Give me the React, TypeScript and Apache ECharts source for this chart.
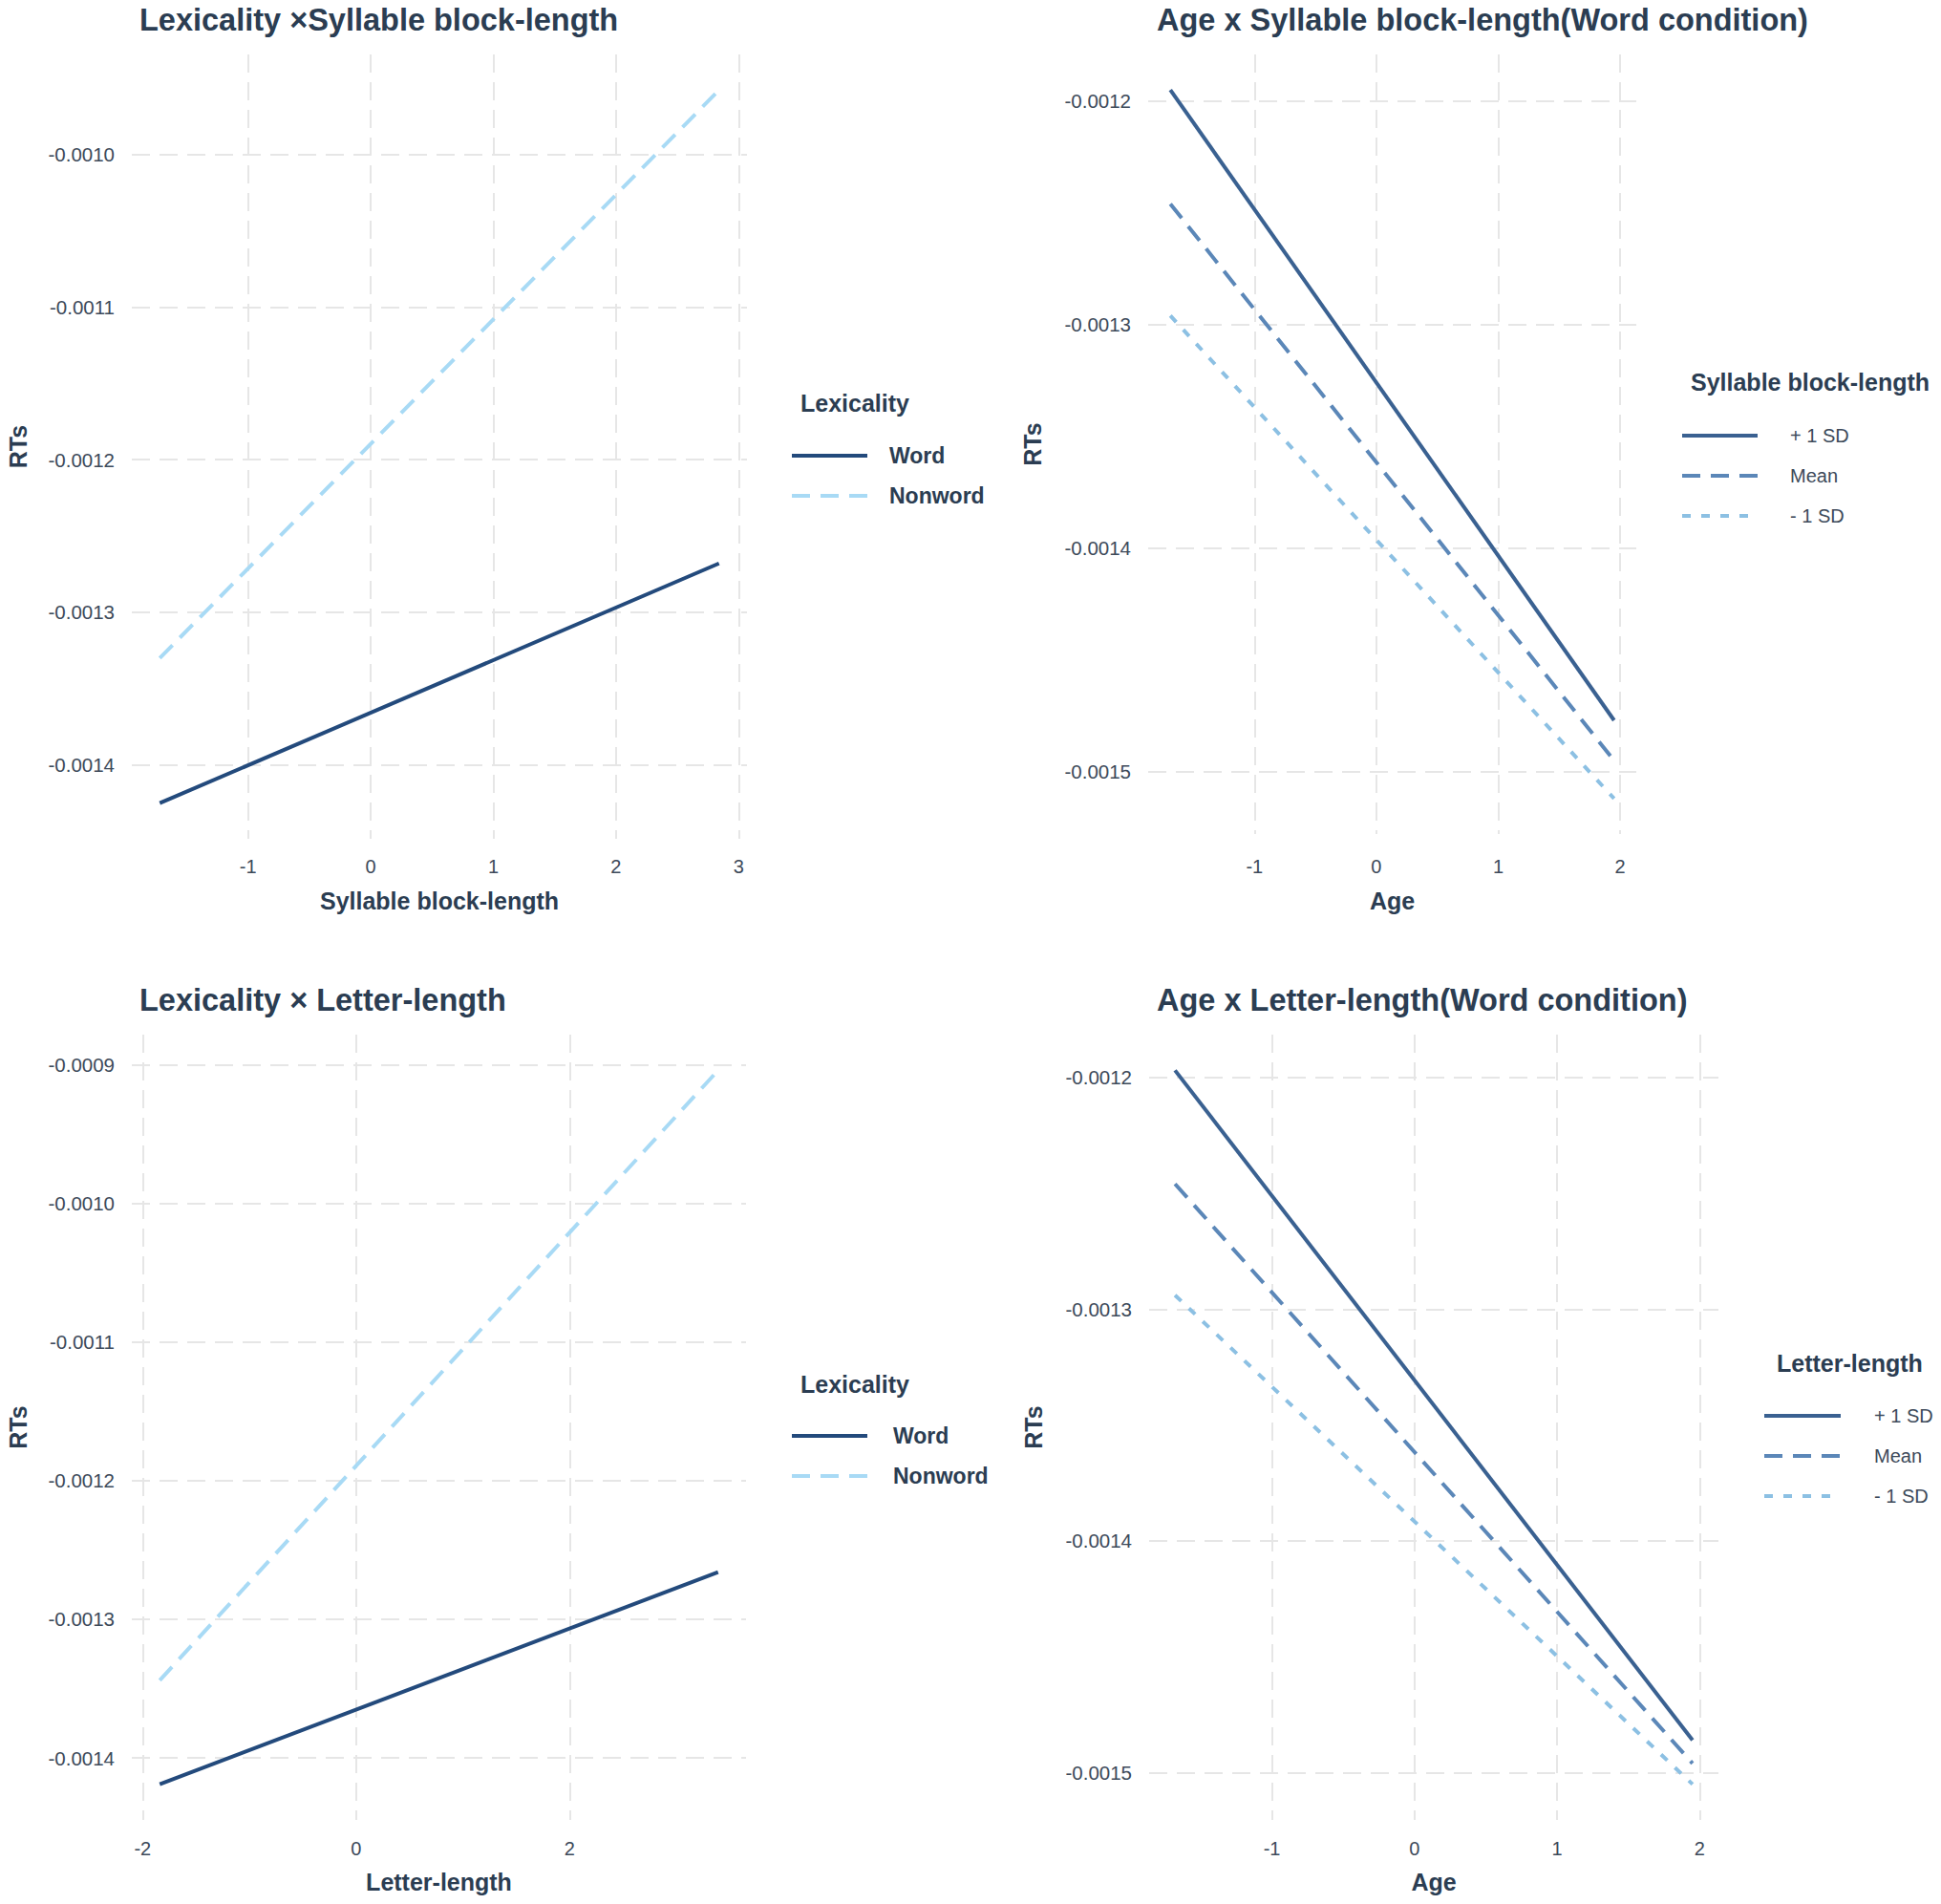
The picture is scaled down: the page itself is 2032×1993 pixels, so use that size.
import React, { useEffect, useRef } from "react";
import * as echarts from "echarts";

// ---------- Data ----------
// Panel 1: Lexicality x Syllable block-length
const syllX = [-1.72, 2.84];
const syllWord = [-0.001425, -0.001268];
const syllNonword = [-0.00133, -0.000958];
const syllXTicks = [-1, 0, 1, 2, 3];
const syllYTicks = [-0.0014, -0.0013, -0.0012, -0.0011, -0.001];

// Panel 2: Age x Syllable block-length (Word condition)
const ageSyllX = [-1.69, 1.95];
const ageSyllPlus = [-0.001195, -0.001477];
const ageSyllMean = [-0.001246, -0.001495];
const ageSyllMinus = [-0.001296, -0.001512];
const ageXTicks = [-1, 0, 1, 2];
const ageSyllYTicks = [-0.0015, -0.0014, -0.0013, -0.0012];

// Panel 3: Lexicality x Letter-length
const letterX = [-1.84, 3.39];
const letterWord = [-0.001419, -0.001266];
const letterNonword = [-0.001344, -0.000904];
const letterXTicks = [-2, 0, 2];
const letterYTicks = [-0.0014, -0.0013, -0.0012, -0.0011, -0.001, -0.0009];

// Panel 4: Age x Letter-length (Word condition)
const ageLetterX = [-1.68, 1.95];
const ageLetterPlus = [-0.001197, -0.001486];
const ageLetterMean = [-0.001246, -0.001496];
const ageLetterMinus = [-0.001294, -0.001505];
const ageLetterYTicks = [-0.0015, -0.0014, -0.0013, -0.0012];

const titles = [
  "Lexicality \u00d7Syllable block-length",
  "Age x Syllable block-length(Word condition)",
  "Lexicality \u00d7 Letter-length",
  "Age x Letter-length(Word condition)",
];
const xNames = ["Syllable block-length", "Age", "Letter-length", "Age"];
const lexLabels = ["Word", "Nonword"];
const sdLabels = ["+ 1 SD", "Mean", "- 1 SD"];
const legendTitles = ["Lexicality", "Syllable block-length", "Lexicality", "Letter-length"];

// ---------- Styles ----------
const FONT = "'Liberation Sans', Arial, Helvetica, sans-serif";
const TEXT = "#2b3d52";
const TICK = "#3d4a5a";
const GRID = "#e6e6e6";
const WORD = "#234a7c";
const NONWORD = "#a8daf5";
const PLUS = "#3a6191";
const MEAN = "#5b87b8";
const MINUS = "#8cc0e3";
const DASH = [19, 11];
const DOT = [9, 11];

function expand(vals: number[]) {
  const lo = Math.min(...vals);
  const hi = Math.max(...vals);
  const pad = (hi - lo) * 0.05;
  return [lo - pad, hi + pad];
}

const grids = [
  { left: 138, top: 57, width: 644, height: 821 },
  { left: 1202, top: 57, width: 511, height: 816 },
  { left: 138, top: 1083, width: 643, height: 822 },
  { left: 1203, top: 1083, width: 596, height: 822 },
];

const panels = [
  {
    x: syllX, xTicks: syllXTicks, yTicks: syllYTicks,
    series: [
      { name: "Word", y: syllWord, color: WORD, type: "solid" as any },
      { name: "Nonword", y: syllNonword, color: NONWORD, type: DASH as any },
    ],
    labelMargin: 19, nameGap: 52, yNameGap: 107,
  },
  {
    x: ageSyllX, xTicks: ageXTicks, yTicks: ageSyllYTicks,
    series: [
      { name: "+ 1 SD", y: ageSyllPlus, color: PLUS, type: "solid" as any },
      { name: "Mean", y: ageSyllMean, color: MEAN, type: DASH as any },
      { name: "- 1 SD", y: ageSyllMinus, color: MINUS, type: DOT as any },
    ],
    labelMargin: 24, nameGap: 57, yNameGap: 109,
  },
  {
    x: letterX, xTicks: letterXTicks, yTicks: letterYTicks,
    series: [
      { name: "Word", y: letterWord, color: WORD, type: "solid" as any },
      { name: "Nonword", y: letterNonword, color: NONWORD, type: DASH as any },
    ],
    labelMargin: 20, nameGap: 52, yNameGap: 107,
  },
  {
    x: ageLetterX, xTicks: ageXTicks, yTicks: ageLetterYTicks,
    series: [
      { name: "+ 1 SD", y: ageLetterPlus, color: PLUS, type: "solid" as any },
      { name: "Mean", y: ageLetterMean, color: MEAN, type: DASH as any },
      { name: "- 1 SD", y: ageLetterMinus, color: MINUS, type: DOT as any },
    ],
    labelMargin: 20, nameGap: 52, yNameGap: 109,
  },
];

const titlePos = [
  { left: 146, top: 4 },
  { left: 1211, top: 4 },
  { left: 146, top: 1030 },
  { left: 1211, top: 1030 },
];

// legend layout: title position, key line x-range, first key y, row step, label x, label bold
const legendLayout = [
  { tx: 838, ty: 422, kx1: 829, kx2: 908, ky: 477, step: 42, lx: 931, bold: true, labels: lexLabels },
  { tx: 1770, ty: 400, kx1: 1761, kx2: 1840, ky: 456, step: 42, lx: 1874, bold: false, labels: sdLabels },
  { tx: 838, ty: 1449, kx1: 829, kx2: 908, ky: 1503, step: 42, lx: 935, bold: true, labels: lexLabels },
  { tx: 1860, ty: 1427, kx1: 1847, kx2: 1927, ky: 1482, step: 42, lx: 1962, bold: false, labels: sdLabels },
];

function buildOption() {
  const xAxis: any[] = [];
  const yAxis: any[] = [];
  const series: any[] = [];
  const graphic: any[] = [];

  panels.forEach((p, i) => {
    const [xmin, xmax] = expand(p.x);
    const allY: number[] = [];
    p.series.forEach((s) => allY.push(...s.y));
    const [ymin, ymax] = expand(allY);

    xAxis.push({
      type: "value",
      gridIndex: i,
      min: xmin,
      max: xmax,
      name: xNames[i],
      nameLocation: "middle",
      nameGap: p.nameGap,
      nameTextStyle: { fontFamily: FONT, fontSize: 25, fontWeight: "bold", color: TEXT },
      axisLine: { show: false },
      axisTick: { show: false, customValues: p.xTicks },
      axisLabel: {
        customValues: p.xTicks,
        fontFamily: FONT,
        fontSize: 20,
        color: TICK,
        margin: p.labelMargin,
        formatter: (v: number) => String(Math.round(v)),
      },
      splitLine: { show: true, lineStyle: { color: GRID, width: 2, type: [19, 10] } },
    });
    yAxis.push({
      type: "value",
      gridIndex: i,
      min: ymin,
      max: ymax,
      name: "RTs",
      nameLocation: "middle",
      nameGap: p.yNameGap,
      nameTextStyle: { fontFamily: FONT, fontSize: 25, fontWeight: "bold", color: TEXT },
      axisLine: { show: false },
      axisTick: { show: false, customValues: p.yTicks },
      axisLabel: {
        customValues: p.yTicks,
        fontFamily: FONT,
        fontSize: 20.5,
        color: TICK,
        margin: 18,
        formatter: (v: number) => v.toFixed(4),
      },
      splitLine: { show: true, lineStyle: { color: GRID, width: 2, type: [19, 10] } },
    });

    p.series.forEach((s) => {
      series.push({
        type: "line",
        name: s.name,
        xAxisIndex: i,
        yAxisIndex: i,
        data: p.x.map((xv, k) => [xv, s.y[k]]),
        symbol: "none",
        silent: true,
        lineStyle: { color: s.color, width: 4, type: s.type, cap: "butt" },
        z: 3,
      });
    });

    // legend drawn as graphic elements
    const L = legendLayout[i];
    graphic.push({
      type: "text",
      x: L.tx,
      y: L.ty,
      style: {
        text: legendTitles[i],
        font: `bold 25px ${FONT}`,
        fill: TEXT,
        textAlign: "left",
        textVerticalAlign: "middle",
        align: "left",
        verticalAlign: "middle",
      },
    });
    p.series.forEach((s, k) => {
      const y = L.ky + k * L.step;
      const dash = Array.isArray(s.type) ? s.type : null;
      graphic.push({
        type: "line",
        shape: { x1: L.kx1, y1: y, x2: L.kx2, y2: y },
        style: { stroke: s.color, lineWidth: 4, lineDash: dash, lineCap: "butt" },
      });
      graphic.push({
        type: "text",
        x: L.lx,
        y,
        style: {
          text: L.labels[k],
          font: `${L.bold ? "bold 23px" : "20px"} ${FONT}`,
          fill: L.bold ? TEXT : TICK,
          textAlign: "left",
          textVerticalAlign: "middle",
          align: "left",
          verticalAlign: "middle",
        },
      });
    });
  });

  return {
    animation: false,
    backgroundColor: "#ffffff",
    title: titles.map((t, i) => ({
      text: t,
      left: titlePos[i].left,
      top: titlePos[i].top,
      padding: 0,
      textStyle: { fontFamily: FONT, fontSize: 32.5, fontWeight: "bold", color: TEXT },
    })),
    grid: grids.map((g) => ({ ...g, containLabel: false })),
    xAxis,
    yAxis,
    series,
    graphic,
  };
}

export default function App() {
  const ref = useRef<HTMLDivElement>(null);
  useEffect(() => {
    document.body.style.margin = "0";
    if (!ref.current) return;
    const chart = echarts.init(ref.current, undefined, { renderer: "svg" });
    chart.setOption(buildOption() as any);
    return () => chart.dispose();
  }, []);
  return <div ref={ref} style={{ width: 2032, height: 1993, background: "#fff" }} />;
}
